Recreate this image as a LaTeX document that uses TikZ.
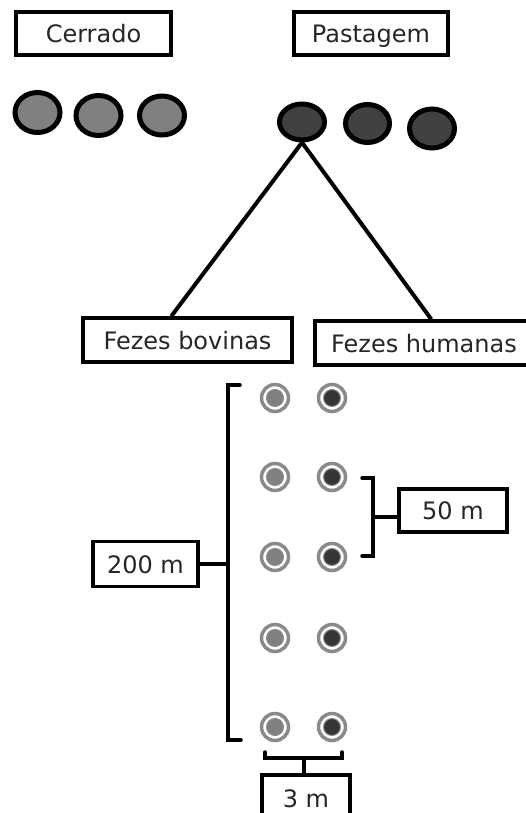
\documentclass[tikz,border=0pt]{standalone}
\usepackage{fontspec}
\setmainfont{DejaVu Sans}
\usetikzlibrary{shapes.geometric}
\definecolor{cerradofill}{HTML}{808080}
\definecolor{pastfill}{HTML}{414141}
\definecolor{ringgray}{HTML}{8A8A8A}
\definecolor{darkin}{HTML}{353535}
\begin{document}
\begin{tikzpicture}[x=1pt,y=-1pt,
  lbl/.style={draw=black,line width=3.5pt,fill=white,inner sep=0pt,
    font=\fontsize{24}{27}\selectfont,text=black!85,text height=18.5pt,text depth=0.5pt},
  oval/.style={ellipse,draw=black,line width=5pt,inner sep=0pt},
  cer/.style={oval,fill=cerradofill},
  pas/.style={oval,fill=pastfill},
  ring/.style={circle,draw=ringgray,line width=3.5pt,fill=white,minimum size=27pt,inner sep=0pt},
  brk/.style={line width=3.5pt,line cap=round},
  conn/.style={line width=4pt}]
\useasboundingbox (0,0) rectangle (526,813);
\clip (0,0) rectangle (526,813);
% header boxes
\node[lbl,minimum width=155pt,minimum height=43pt] (cer) at (93.5,33.5) {Cerrado};
\node[lbl,minimum width=154pt,minimum height=43pt] (pas) at (371,33.5) {Pastagem};
% ovals
\node[cer,minimum width=45pt,minimum height=40pt] (c1) at (37.5,112.5) {};
\node[cer,minimum width=45pt,minimum height=40pt] (c2) at (98.5,115.5) {};
\node[cer,minimum width=45pt,minimum height=39pt] (c3) at (162,115.5) {};
\node[pas,minimum width=45pt,minimum height=36pt] (p1) at (302,122) {};
\node[pas,minimum width=44pt,minimum height=38pt] (p2) at (367.5,123.5) {};
\node[pas,minimum width=45pt,minimum height=39pt] (p3) at (432,128.5) {};
% feces boxes
\node[lbl,minimum width=209pt,minimum height=44pt] (fb) at (187.5,340) {Fezes bovinas};
\node[lbl,minimum width=218pt,minimum height=44pt] (fh) at (424,343) {Fezes humanas};
\draw[conn] (p1.south) -- ([xshift=90pt]fb.north west);
\draw[conn] (p1.south) -- ([xshift=118pt]fh.north west);
% sampling points
\foreach \r/\y in {1/398,2/477,3/557,4/638,5/727}{
  \node[ring] (L\r) at (275,\y) {};
  \fill[cerradofill,draw=ringgray,line width=1pt] (L\r.center) circle (8.5pt);
  \node[ring] (R\r) at (332,\y) {};
  \fill[darkin,draw=ringgray,line width=1pt] (R\r.center) circle (8.5pt);
}
% 200 m bracket
\node[lbl,minimum width=105pt,minimum height=45pt] (d200) at (145.5,564) {200 m};
\coordinate (b200) at (228,564);
\draw[brk] (240,385) -- (228,385) -- (228,740) -- (241,740);
\draw[brk] (d200.east) -- (b200);
% 50 m bracket
\node[lbl,minimum width=108pt,minimum height=43pt] (d50) at (453,510.5) {50 m};
\coordinate (b50) at (373,517);
\draw[brk] (362,478) -- (373,478) -- (373,556) -- (362,556);
\draw[brk] (b50) -- (b50 -| d50.west);
% 3 m bracket
\node[lbl,minimum width=88pt,minimum height=60pt,anchor=north] (d3) at (306,773) {};
\node[font=\fontsize{24}{27}\selectfont,text=black!85,inner sep=0pt,anchor=base] at (306,807) {3 m};
\coordinate (b3) at (304,758);
\draw[brk] (265,752) -- (265,758) -- (342,758) -- (342,752);
\draw[brk] (b3) -- (b3 |- d3.north);
\end{tikzpicture}
\end{document}
